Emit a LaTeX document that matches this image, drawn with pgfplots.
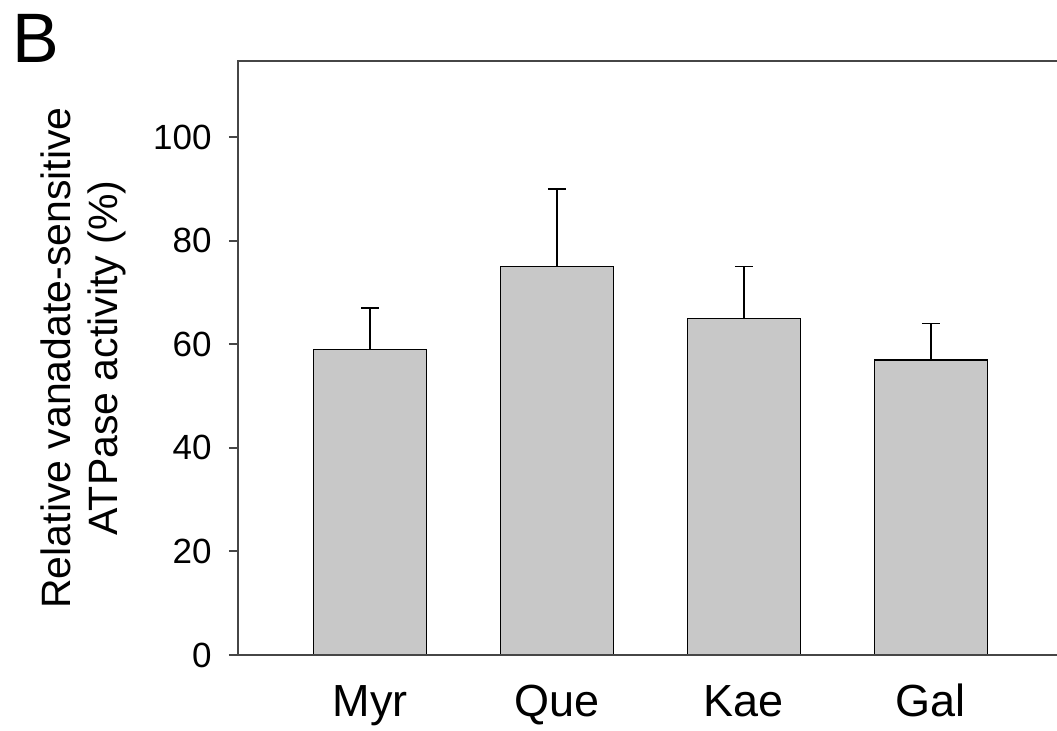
\documentclass[border=0pt]{standalone}
\usepackage{pgfplots}
\pgfplotsset{compat=1.18}
\usepackage{fontspec}
\setmainfont{Liberation Sans}
\definecolor{barfill}{RGB}{200,200,200}
\definecolor{axisgray}{RGB}{70,70,70}
\begin{document}
\begin{tikzpicture}
\begin{axis}[
  at={(0,0)}, anchor=south west,
  scale only axis,
  width=409.5pt, height=297pt,
  xmin=-0.706, xmax=3.674,
  ymin=0, ymax=114.7,
  ybar, bar width=56.5pt,
  axis line style={draw=none},
  clip=false,
  xtick=data,
  xticklabels={Myr,Que,Kae,Gal},
  x tick style={draw=none},
  xticklabel style={anchor=base, yshift=-26.5pt, font=\fontsize{22.5pt}{26pt}\selectfont},
  ytick={0,20,40,60,80,100},
  ytick pos=left,
  tick align=outside,
  major tick length=4.5pt,
  y tick style={axisgray, line width=1pt},
  yticklabel style={anchor=east, inner sep=0pt, xshift=-8.5pt, font=\fontsize{17.5pt}{20pt}\selectfont},
  /pgf/number format/assume math mode=true,
  ylabel={Relative vanadate-sensitive\\ATPase activity (\%)},
  ylabel style={at={(axis description cs:-0.189,0.5)}, anchor=center, align=center,
    font=\fontsize{20.5pt}{23.5pt}\selectfont},
]
\addplot[fill=barfill, draw=black, line width=0.75pt,
  error bars/.cd, y dir=plus, y explicit,
  error bar style={black, line width=0.75pt},
  error mark options={rotate=90, mark size=4.5pt, line width=0.75pt, black}]
  table[x=x, y=y, y error=err] {
x y err
0 59 8
1 75 15
2 65 10
3 57 7
};
\draw[axisgray, line width=1pt] (rel axis cs:1.02,1) -- (rel axis cs:0,1) -- (rel axis cs:0,0) -- (rel axis cs:1.02,0);
\end{axis}
\node[anchor=base west, inner sep=0pt, font=\fontsize{35pt}{38pt}\selectfont] at (-113pt,296pt) {B};
\pgfresetboundingbox
\path[use as bounding box] (-119pt,-38pt) rectangle (409.5pt,327.5pt);
\end{tikzpicture}
\end{document}
